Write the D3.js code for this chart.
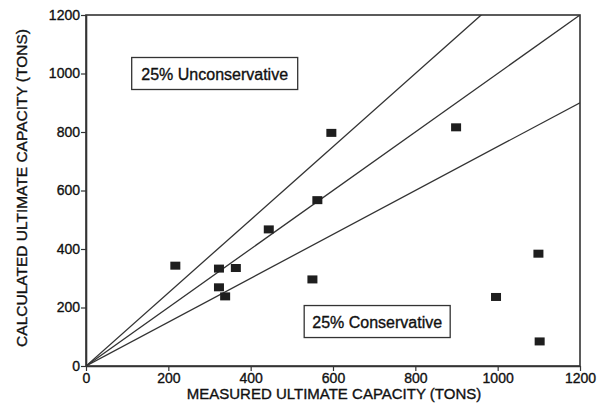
<!DOCTYPE html>
<html>
<head>
<meta charset="utf-8">
<script src="https://cdn.jsdelivr.net/npm/d3@7"></script>
<style>
  body { margin: 0; background: #fff; }
  text { font-family: "Liberation Sans", Arial, sans-serif; fill: #111; stroke: #111; stroke-width: 0.35px; }
</style>
</head>
<body>
<div id="chart"></div>
<script>
var w = 613,
    h = 407,
    left = 86,
    right = 580,
    top_ = 15,
    bottom = 366;

// measured vs calculated capacity (tons)
var measured   = [217, 323, 364, 323, 338, 444, 562, 596, 550, 899, 996, 1099, 1102];
var calculated = [343, 333, 335, 269, 238, 467, 567, 797, 296, 816, 236, 384, 84];
var xTicks = [0, 200, 400, 600, 800, 1000, 1200];
var yTicks = [0, 200, 400, 600, 800, 1000, 1200];
var ratios = [1.25, 1, 0.75];
var boxes = [
  {label: "25% Unconservative", x: 111, y: 1000},
  {label: "25% Conservative", x: 530, y: 152}
];

var svg = d3.select("#chart").append("svg")
    .attr("width", w)
    .attr("height", h);

var x = d3.scaleLinear().domain([0, 1200]).range([left, right]),
    y = d3.scaleLinear().domain([0, 1200]).range([bottom, top_]);

var stroke = "#333";

// frame
svg.append("rect")
    .attr("x", left).attr("y", top_)
    .attr("width", right - left).attr("height", bottom - top_)
    .attr("fill", "none")
    .attr("stroke", stroke)
    .attr("stroke-width", 1.6);

var xAxis = d3.axisBottom(x).tickValues(xTicks).tickFormat(d3.format("d"))
    .tickSize(5).tickPadding(2).tickSizeOuter(0);
var yAxis = d3.axisLeft(y).tickValues(yTicks).tickFormat(d3.format("d"))
    .tickSize(5).tickPadding(1).tickSizeOuter(0);

var gx = svg.append("g")
    .attr("transform", "translate(0," + bottom + ")")
    .call(xAxis);
var gy = svg.append("g")
    .attr("transform", "translate(" + left + ",0)")
    .call(yAxis);

[gx, gy].forEach(function(g) {
    g.select(".domain").attr("stroke", stroke).attr("stroke-width", 1.6);
    g.selectAll(".tick line").attr("stroke", stroke).attr("stroke-width", 1.2);
    g.selectAll(".tick text")
        .style("font-family", "'Liberation Sans', Arial, sans-serif")
        .style("font-size", "14px")
        .attr("fill", "#111");
});

// ratio lines, clipped to plot area
svg.append("clipPath").attr("id", "plot")
    .append("rect")
    .attr("x", left).attr("y", top_)
    .attr("width", right - left).attr("height", bottom - top_);

svg.append("g").attr("clip-path", "url(#plot)")
    .selectAll("line")
    .data(ratios)
    .enter()
    .append("line")
    .attr("x1", x(0)).attr("y1", y(0))
    .attr("x2", x(1200)).attr("y2", function(d) { return y(1200 * d); })
    .attr("stroke", stroke)
    .attr("stroke-width", 1.3);

// label boxes
var bw = [166, 146], bh = 32;
boxes.forEach(function(b, i) {
    var g = svg.append("g");
    g.append("rect")
        .attr("x", x(b.x)).attr("y", y(b.y) - bh / 2)
        .attr("width", bw[i]).attr("height", bh)
        .attr("fill", "#fff")
        .attr("stroke", stroke)
        .attr("stroke-width", 1.3);
    g.append("text")
        .attr("x", x(b.x) + bw[i] / 2)
        .attr("y", y(b.y) + 6)
        .attr("text-anchor", "middle")
        .style("font-size", "16px")
        .text(b.label);
});

// points
svg.selectAll("rect.pt")
    .data(measured)
    .enter()
    .append("rect")
    .attr("class", "pt")
    .attr("x", function(d) { return x(d) - 5; })
    .attr("y", function(d, i) { return y(calculated[i]) - 4; })
    .attr("width", 10)
    .attr("height", 8)
    .attr("fill", "#1e1e1e");

// axis titles
svg.append("text")
    .attr("x", 334)
    .attr("y", 399)
    .attr("text-anchor", "middle")
    .style("font-size", "15px")
    .text("MEASURED ULTIMATE CAPACITY (TONS)");

svg.append("text")
    .attr("transform", "translate(27," + 188 + ") rotate(-90)")
    .attr("text-anchor", "middle")
    .style("font-size", "15.5px")
    .text("CALCULATED ULTIMATE CAPACITY (TONS)");
</script>
</body>
</html>
